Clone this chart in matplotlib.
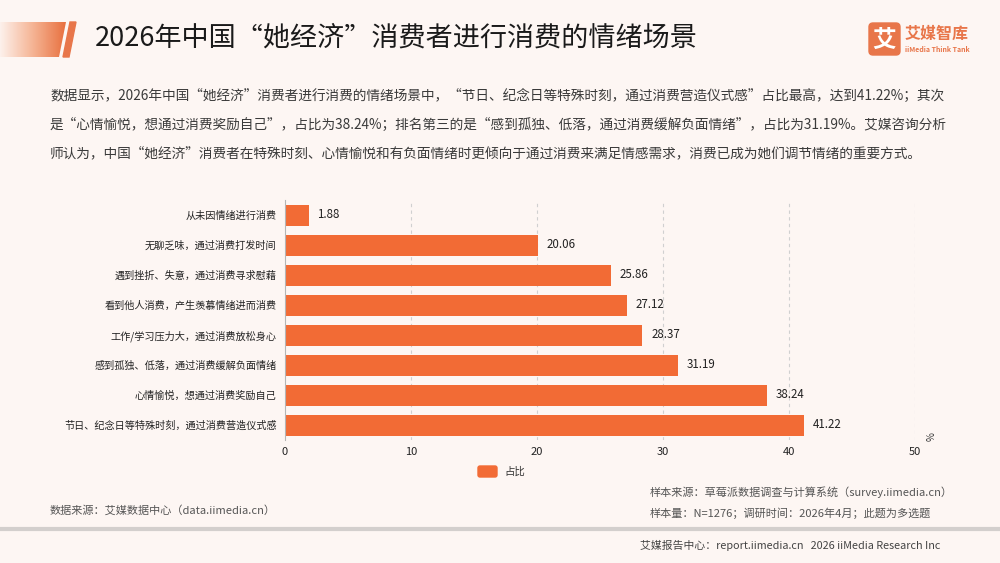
import matplotlib.pyplot as plt
import numpy as np
from matplotlib.patches import Polygon, FancyBboxPatch
from matplotlib.colors import LinearSegmentedColormap

plt.rcParams['font.family'] = ['Noto Sans CJK SC', 'DejaVu Sans']

categories = ['从未因情绪进行消费', '无聊乏味，通过消费打发时间', '遇到挫折、失意，通过消费寻求慰藉',
              '看到他人消费，产生羡慕情绪进而消费', '工作/学习压力大，通过消费放松身心',
              '感到孤独、低落，通过消费缓解负面情绪', '心情愉悦，想通过消费奖励自己',
              '节日、纪念日等特殊时刻，通过消费营造仪式感']
values = [1.88, 20.06, 25.86, 27.12, 28.37, 31.19, 38.24, 41.22]
xticks = [0, 10, 20, 30, 40, 50]

bg = '#fdf6f3'
orange = '#f26b35'

fig = plt.figure(figsize=(10, 5.63), dpi=100, facecolor=bg)

# header decoration
deco = fig.add_axes([0, 0, 1, 1], facecolor='none')
deco.set_xlim(0, 1000)
deco.set_ylim(563, 0)
deco.axis('off')
grad = np.linspace(0, 1, 200).reshape(1, -1)
cmap = LinearSegmentedColormap.from_list('g', ['#fdf1ec', '#f5b494', '#e8703f'])
im = deco.imshow(grad, extent=[0, 66, 57, 22], cmap=cmap, aspect='auto', zorder=1)
clip = Polygon([[0, 22], [66, 22], [59, 57], [0, 57]], closed=True, transform=deco.transData)
im.set_clip_path(clip)
deco.add_patch(Polygon([[70, 22], [76, 22], [69, 57], [63, 57]], closed=True, color='#e8764a', zorder=2))
deco.text(95, 38, '2026年中国“她经济”消费者进行消费的情绪场景', fontsize=19.5, color='#1a1a1a', va='center', ha='left')

# logo
deco.add_patch(FancyBboxPatch((869, 23), 31, 32, boxstyle='round,pad=0,rounding_size=4', color='#e8764a', zorder=2))
deco.text(884.5, 39.5, '艾', fontsize=17, color='white', ha='center', va='center', fontweight='bold', zorder=3)
deco.text(905, 34, '艾媒智库', fontsize=11.5, color='#e8764a', ha='left', va='center', fontweight='bold')
deco.text(905, 49, 'iiMedia Think Tank', fontsize=5, color='#e8764a', ha='left', va='center', fontweight='bold')

para = ['数据显示，2026年中国“她经济”消费者进行消费的情绪场景中，“节日、纪念日等特殊时刻，通过消费营造仪式感”占比最高，达到41.22%；其次',
        '是“心情愉悦，想通过消费奖励自己”，占比为38.24%；排名第三的是“感到孤独、低落，通过消费缓解负面情绪”，占比为31.19%。艾媒咨询分析',
        '师认为，中国“她经济”消费者在特殊时刻、心情愉悦和有负面情绪时更倾向于通过消费来满足情感需求，消费已成为她们调节情绪的重要方式。']
for i, line in enumerate(para):
    deco.text(50, 96 + i * 28.5, line, fontsize=9.85, color='#3a3a3a', ha='left', va='center')

# footer
deco.text(50, 510, '数据来源：艾媒数据中心（data.iimedia.cn）', fontsize=8, color='#555555', va='center')
deco.text(650, 492, '样本来源：草莓派数据调查与计算系统（survey.iimedia.cn）', fontsize=8, color='#555555', va='center')
deco.text(650, 513, '样本量：N=1276；调研时间：2026年4月；此题为多选题', fontsize=8, color='#555555', va='center')
deco.plot([0, 1000], [529, 529], color='#d3cfcd', lw=3, zorder=1)
deco.text(640, 545, '艾媒报告中心：report.iimedia.cn   2026 iiMedia Research Inc', fontsize=7.8, color='#444444', va='center')

# chart
ax = fig.add_axes([0.285, 1 - 440 / 563, 0.63, 240 / 563], facecolor='none')
y = np.arange(len(categories))[::-1]
ax.barh(y, values, height=0.7, color=orange, zorder=2)
for yi, v in zip(y, values):
    ax.text(v + 0.7, yi, f'{v:.2f}', va='center', ha='left', fontsize=8.3, color='#222222')
ax.set_xlim(0, 50)
ax.set_ylim(-0.5, 7.5)
ax.set_yticks(y)
ax.set_yticklabels(categories, fontsize=7.3, color='#222222')
ax.set_xticks(xticks)
ax.set_xticklabels([str(t) for t in xticks], fontsize=8, color='#222222')
ax.tick_params(axis='y', length=0, pad=6)
ax.tick_params(axis='x', length=0, pad=5)
for t in xticks[1:]:
    ax.axvline(t, color='#d0d0d0', lw=0.8, ls=(0, (3, 3)), zorder=1)
for s in ['top', 'right', 'bottom']:
    ax.spines[s].set_visible(False)
ax.spines['left'].set_color('#b5b5b5')
ax.text(51.3, -0.4, '%', fontsize=7, rotation=90, ha='center', va='center', color='#333333')

# legend
deco.add_patch(FancyBboxPatch((478, 466), 19, 11, boxstyle='round,pad=0,rounding_size=2', color=orange))
deco.text(504, 471.5, '占比', fontsize=7.5, color='#333333', va='center')

fig.savefig('out.png', dpi=100, facecolor=bg)
